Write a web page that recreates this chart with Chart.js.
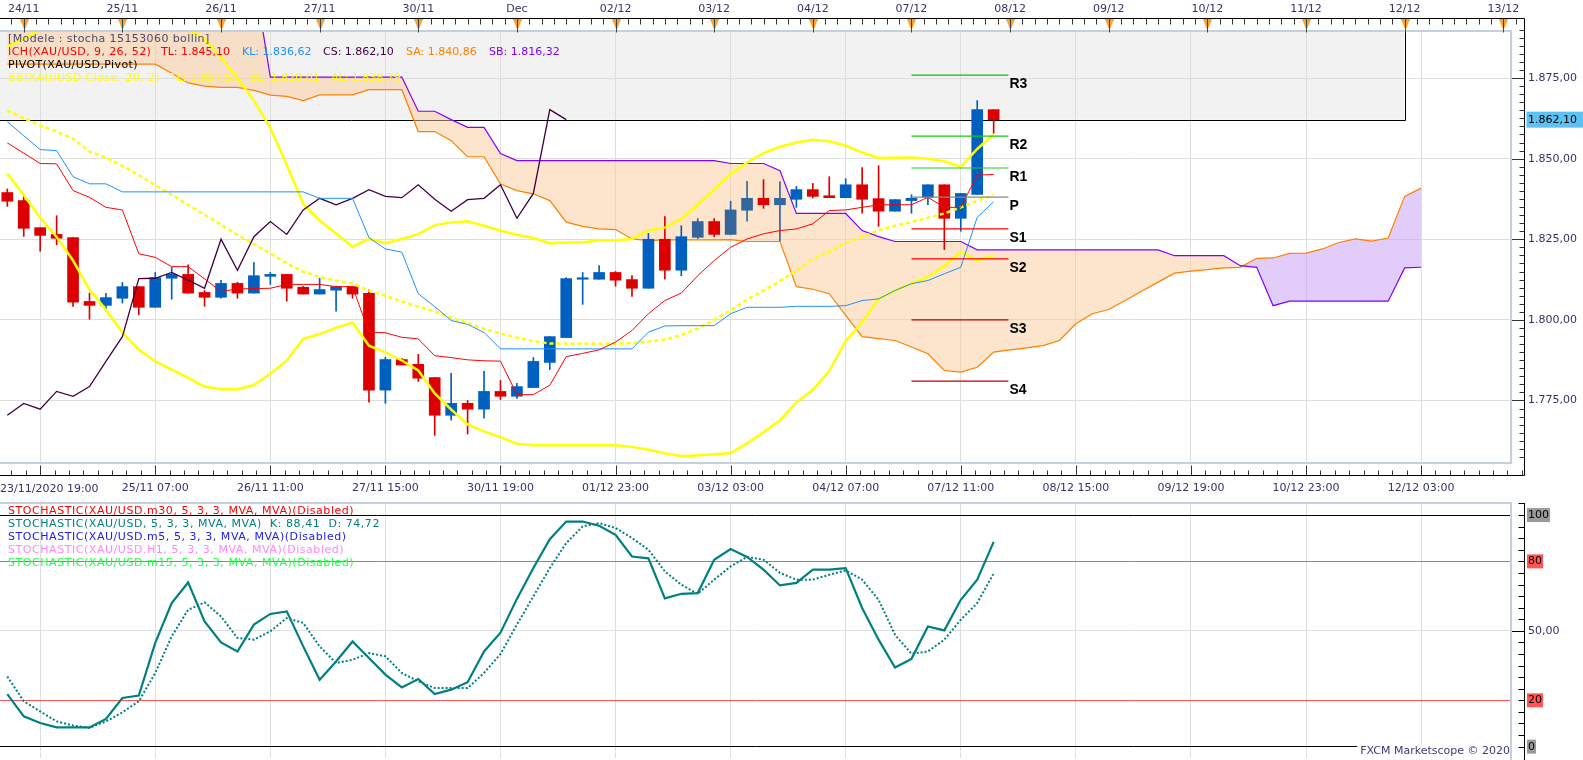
<!DOCTYPE html>
<html>
<head>
<meta charset="utf-8">
<script src="https://cdn.jsdelivr.net/npm/chart.js@4.4.1/dist/chart.umd.min.js"></script>
<style>
  html, body { margin: 0; padding: 0; background: #fff; overflow: hidden; }
  #wrap { position: relative; width: 1583px; height: 760px; }
  #price { position: absolute; left: 0; top: 0; width: 1583px; height: 500px; }
  #stoch { position: absolute; left: 0; top: 500px; width: 1583px; height: 260px; }
</style>
</head>
<body>
<div id="wrap">
  <canvas id="price" width="1583" height="500"></canvas>
  <canvas id="stoch" width="1583" height="260"></canvas>
</div>
<script>
// XAU/USD 4h bars, index 0 = first visible candle
const opens  = [1839.5,1837.0,1828.6,1826.5,1825.5,1805.7,1804.5,1806.7,1810.3,1803.9,1812.9,1814.1,1808.5,1807.0,1811.3,1808.3,1813.5,1814.1,1810.1,1808.0,1809.2,1810.3,1808.2,1778.2,1787.7,1786.2,1782.1,1770.4,1774.1,1772.3,1777.8,1776.3,1779.0,1786.8,1794.5,1812.6,1812.6,1814.7,1812.5,1809.8,1825.0,1815.4,1825.6,1830.5,1826.5,1834.0,1837.7,1835.7,1837.4,1840.4,1838.5,1837.9,1841.9,1837.6,1833.7,1837.0,1838.0,1841.9,1831.5,1838.9,1865.2];
const highs  = [1840.6,1838.3,1828.6,1832.3,1825.5,1808.3,1808.2,1811.6,1810.3,1814.7,1816.3,1817.1,1809.1,1812.3,1811.7,1817.8,1814.7,1814.1,1810.4,1812.9,1810.5,1810.3,1809.3,1788.4,1788.0,1789.3,1782.1,1783.4,1775.0,1784.0,1781.2,1780.3,1788.3,1794.8,1813.1,1814.7,1816.8,1815.0,1813.7,1826.8,1832.0,1829.2,1831.4,1831.4,1836.8,1843.0,1843.5,1842.9,1841.4,1842.3,1844.4,1843.8,1847.2,1847.8,1837.3,1838.8,1841.9,1841.9,1839.2,1868.0,1865.2];
const lows   = [1835.2,1825.9,1821.3,1823.3,1804.2,1800.2,1803.2,1805.2,1801.6,1803.9,1806.4,1808.3,1804.2,1806.7,1806.7,1808.3,1811.0,1805.8,1808.0,1808.0,1802.7,1806.7,1774.5,1774.1,1786.0,1780.9,1764.2,1768.9,1764.6,1769.5,1775.3,1775.6,1779.0,1784.6,1794.5,1804.8,1812.6,1810.4,1807.3,1809.8,1812.6,1813.7,1825.2,1825.8,1826.5,1830.6,1834.6,1824.5,1834.9,1837.8,1837.9,1837.9,1833.1,1829.0,1833.7,1833.1,1835.7,1821.8,1827.5,1838.9,1857.9];
const closes = [1836.8,1828.4,1826.2,1825.3,1805.5,1804.5,1806.9,1810.3,1803.9,1813.1,1814.1,1808.3,1807.0,1811.3,1808.3,1813.7,1814.1,1809.8,1808.0,1809.4,1810.3,1808.0,1778.2,1787.7,1786.0,1781.9,1770.4,1774.1,1772.3,1777.8,1776.3,1779.3,1787.1,1794.8,1812.8,1812.9,1814.7,1812.3,1809.8,1825.0,1815.4,1825.8,1830.5,1826.5,1834.1,1837.7,1835.7,1837.7,1840.4,1838.3,1837.9,1841.9,1837.4,1833.7,1837.3,1837.7,1841.9,1831.5,1839.2,1865.2,1862.1];

// Ichimoku 9/26/52
const tenkan = [1854.9,1851.7,1848.5,1848.4,1840.1,1838.0,1834.9,1834.1,1820.5,1819.4,1816.5,1816.5,1812.7,1808.8,1809.6,1809.7,1809.8,1811.0,1811.0,1811.0,1810.3,1810.3,1796.2,1796.0,1794.6,1794.1,1788.9,1788.3,1787.6,1787.3,1787.2,1776.8,1776.8,1779.7,1788.6,1789.6,1790.7,1793.1,1796.7,1801.9,1806.0,1808.3,1813.7,1818.4,1822.5,1825.1,1826.7,1827.7,1828.2,1829.8,1833.9,1834.1,1834.9,1835.7,1835.7,1835.7,1838.0,1834.9,1834.9,1844.9,1845.10];
const kijun  = [1861.5,1857.1,1852.8,1852.5,1844.4,1842.2,1842.2,1839.7,1839.7,1839.7,1839.7,1839.7,1839.7,1839.7,1839.7,1839.7,1839.7,1839.7,1839.7,1837.7,1837.7,1837.7,1825.5,1822.0,1821.0,1808.1,1804.1,1799.8,1798.6,1796.1,1791.0,1791.0,1791.0,1791.0,1791.0,1791.0,1791.0,1791.0,1791.0,1796.2,1798.1,1798.2,1798.2,1798.2,1801.9,1803.9,1803.9,1803.9,1804.2,1804.2,1804.2,1804.4,1806.0,1806.5,1809.1,1811.2,1812.2,1814.3,1816.3,1831.8,1836.62];
// senkou spans run 26 bars past the last candle
const senkouA = [1879.3,1879.3,1879.3,1879.3,1879.3,1879.3,1879.3,1879.3,1879.3,1879.3,1876.5,1873.5,1872.5,1872.1,1872.1,1871.2,1869.7,1869.3,1868.0,1869.8,1869.8,1869.8,1871.4,1871.4,1871.4,1858.4,1858.4,1855.6,1850.6,1850.6,1842.1,1840.1,1839.1,1837.0,1830.3,1829.0,1828.2,1828.0,1825.1,1824.6,1824.8,1824.8,1824.8,1824.8,1824.9,1824.3,1824.3,1824.3,1810.3,1809.5,1808.1,1801.4,1794.8,1794.2,1793.6,1791.6,1789.5,1784.3,1783.8,1785.3,1790.0,1790.7,1791.3,1792.0,1793.6,1798.8,1801.9,1803.2,1806.0,1808.9,1811.7,1814.5,1815.1,1815.6,1816.1,1816.3,1819.1,1819.2,1820.6,1820.7,1822.0,1824.0,1825.1,1824.4,1825.4,1838.3,1840.86];
const senkouB = [1907,1907,1907,1907,1907,1907,1907,1907,1907,1907,1907,1907,1907,1907,1907,1907,1875.3,1875.3,1875.3,1875.3,1875.3,1875.3,1875.3,1875.3,1875.3,1864.7,1864.7,1862.1,1859.7,1859.7,1851.6,1849.4,1849.4,1849.4,1849.4,1849.4,1849.4,1849.4,1849.4,1849.4,1849.4,1849.4,1849.4,1849.4,1848.5,1848.5,1848.5,1846.3,1833.0,1833.0,1833.0,1833.0,1827.7,1825.8,1824.3,1824.3,1824.3,1824.3,1824.3,1821.7,1821.7,1821.7,1821.7,1821.7,1821.7,1821.7,1821.7,1821.7,1821.7,1821.7,1821.7,1819.9,1819.9,1819.9,1819.9,1816.8,1816.3,1804.4,1805.8,1805.8,1805.8,1805.8,1805.8,1805.8,1805.8,1816.1,1816.32];
const chikouShift = 26;

// Bollinger 20, 2
const bbUpper = [1884.7,1887.2,1890.0,1892.5,1894.5,1896.0,1897.0,1897.0,1896.5,1895.0,1893.0,1890.0,1887.2,1881.3,1875.0,1868.0,1859.6,1848.0,1836.0,1830.8,1826.8,1822.7,1825.1,1823.8,1825.1,1826.6,1829.4,1830.2,1830.6,1829.2,1827.7,1826.4,1825.4,1823.8,1824.0,1824.1,1824.6,1824.7,1825.1,1827.7,1828.6,1831.3,1835.7,1840.4,1845.2,1848.8,1851.7,1853.7,1855.0,1855.9,1855.4,1854.0,1851.9,1850.2,1850.3,1850.4,1850.0,1849.2,1847.5,1853.0,1857.57];
const bbMid   = [1864.9,1862.6,1860.3,1858.4,1856.2,1852.2,1850.3,1847.8,1844.9,1841.8,1838.8,1835.7,1832.6,1829.5,1826.4,1823.5,1820.6,1817.5,1815.0,1813.3,1812.2,1811.3,1809.1,1807.5,1805.7,1804.1,1802.6,1800.7,1799.0,1797.2,1795.8,1794.5,1793.4,1792.7,1792.6,1792.6,1792.6,1792.6,1792.8,1793.3,1793.9,1795.3,1797.3,1800.0,1803.0,1806.3,1809.1,1812.0,1815.3,1818.9,1821.2,1823.8,1825.8,1827.8,1829.2,1830.3,1831.7,1833.0,1834.9,1837.0,1838.79];
const bbLower = [1845.4,1838.7,1831.7,1825.7,1818.4,1809.4,1803.1,1796.1,1790.8,1787.1,1784.6,1782.0,1779.3,1778.5,1778.5,1779.8,1783.3,1787.4,1794.1,1795.6,1797.6,1799.2,1792.0,1789.9,1787.4,1784.3,1777.2,1772.2,1767.6,1765.4,1763.6,1761.6,1761.1,1761.1,1761.1,1761.1,1761.1,1761.1,1760.6,1759.7,1758.6,1757.7,1758.0,1758.3,1758.7,1761.7,1765.1,1768.8,1774.4,1778.3,1784.1,1793.4,1799.2,1806.5,1809.1,1811.3,1813.3,1816.7,1821.0,1818.4,1820.01];

// daily pivots
const pivotNames  = ['R3','R2','R1','P','S1','S2','S3','S4'];
const pivotLevels = [1875.9,1857.0,1847.1,1838.1,1828.2,1818.9,1800.0,1781.0];
const pivotStart = 55, pivotEnd = 60.9;
const boxEndBar = 85;

// stochastic 5,3,3
const stochK = [22.7,13.1,10.2,8.3,8.3,8.3,12.0,21.0,22.1,44.8,62.0,70.9,54.1,45.0,41.1,52.7,57.3,58.4,43.3,28.9,36.8,45.4,38.3,31.1,25.6,29.2,22.7,24.6,27.8,41.1,49.2,63.8,77.1,89.6,97.2,97.2,95.4,91.5,82.1,81.3,64.0,66.0,66.3,80.7,85.3,81.9,76.4,69.6,70.7,76.4,76.4,77.1,59.9,46.2,34.2,37.9,51.9,50.2,63.4,72.1,88.41];
const stochD = [30.3,19.6,15.2,10.9,9.1,8.1,10.9,14.8,19.6,31.8,47.6,59.1,62.3,56.2,46.9,46.2,49.8,55.5,53.4,43.3,36.1,37.5,40.4,39.0,31.8,28.2,25.3,25.3,25.3,31.8,40.0,52.7,64.9,77.1,87.9,95.1,96.5,94.4,90.1,85.0,75.7,69.9,66.0,72.1,77.8,81.9,80.7,75.0,72.1,72.1,74.2,76.1,72.1,63.4,48.3,40.1,41.1,46.2,54.8,62.0,74.72];

// axis ticks
const dayTickBars = [1,7,13,19,25,31,37,43,49,55,61,67,73,79,85,91];
const dayLabels = ['24/11','25/11','26/11','27/11','30/11','Dec','02/12','03/12','04/12','07/12','08/12','09/12','10/12','11/12','12/12','13/12'];
const timeTickBars = [2,9,16,23,30,37,44,51,58,65,72,79,86];
const timeLabels = ['23/11/2020 19:00','25/11 07:00','26/11 11:00','27/11 15:00','30/11 19:00','01/12 23:00','03/12 03:00','04/12 07:00','07/12 11:00','08/12 15:00','09/12 19:00','10/12 23:00','12/12 03:00'];
const priceTicks = [1775,1800,1825,1850,1875];
const stochTicks = [0,20,50,80,100];

const X_MIN = -0.444, X_MAX = 91.47;
const FONT = '"DejaVu Sans", Verdana, sans-serif';
const AXIS_TXT = '#333366';
const FRAME = '#c6cfdc';
Chart.defaults.font.family = FONT;
Chart.defaults.font.size = 11;

const fmt = (v, d = 2) => {
  const s = v.toFixed(d).split('.');
  return s[0].replace(/\B(?=(\d{3})+(?!\d))/g, '.') + (d ? ',' + s[1] : '');
};
const last = arr => arr[arr.length - 1];
const pts = arr => arr.map((v, i) => ({x: i, y: v}));
const lastClose = last(closes);
const steelBars = [42, 44, 45, 47];
const candleColor = i => closes[i] >= opens[i] ? (steelBars.includes(i) ? '#33669a' : '#0060c0') : '#dd0000';
const pivotColors = ['#11bb11','#11cc11','#22cc22','#888888','#ff0000','#ff0000','#bb0000','#bb0000'];

function line(label, data, color, width, order, extra) {
  return Object.assign({type: 'line', label, data, borderColor: color, borderWidth: width,
    pointRadius: 0, pointHoverRadius: 0, fill: false, tension: 0, order}, extra || {});
}

// text pieces at fixed x slots; label strings get a little tracking to mimic Verdana
function slots(ctx, y, pieces) {
  pieces.forEach(([t, c, x, track]) => {
    ctx.letterSpacing = track ? '0.4px' : '0px';
    ctx.fillStyle = c;
    ctx.fillText(t, x, y);
  });
  ctx.letterSpacing = '0px';
}

const priceDecor = {
  id: 'priceDecor',
  beforeDraw(chart) {
    const {ctx, chartArea: a, scales} = chart;
    const xr = scales.x.getPixelForValue(boxEndBar);
    const yb = scales.y.getPixelForValue(lastClose);
    ctx.save();
    ctx.fillStyle = '#f2f2f2';
    ctx.fillRect(a.left, a.top, xr - a.left, yb - a.top);
    ctx.restore();
  },
  beforeDatasetsDraw(chart) {
    const {ctx, chartArea: a, scales} = chart;
    const xr = Math.round(scales.x.getPixelForValue(boxEndBar)) + 0.5;
    const yb = Math.round(scales.y.getPixelForValue(lastClose)) + 0.5;
    ctx.save();
    ctx.strokeStyle = '#000';
    ctx.lineWidth = 1;
    ctx.beginPath();
    ctx.moveTo(a.left, yb); ctx.lineTo(xr, yb); ctx.lineTo(xr, a.top);
    ctx.stroke();
    ctx.restore();
  },
  afterDraw(chart) {
    const {ctx, chartArea: a, scales: {x, y}} = chart;
    const axTop = 18.5, axRight = 1524.5, axBottom = 475.5;
    ctx.save();
    // frame
    ctx.strokeStyle = FRAME;
    ctx.lineWidth = 2;
    ctx.strokeRect(-2, a.top, a.right + 2, a.bottom - a.top);
    // axis lines
    ctx.strokeStyle = '#000';
    ctx.lineWidth = 1;
    ctx.beginPath();
    ctx.moveTo(0, axTop); ctx.lineTo(axRight, axTop); ctx.lineTo(axRight, axBottom); ctx.lineTo(0, axBottom);
    ctx.stroke();
    // top minor ticks
    ctx.strokeStyle = '#333';
    ctx.beginPath();
    for (let b = dayTickBars[0] - 1.5; b < X_MAX + 1; b += 0.75) {
      const px = Math.round(x.getPixelForValue(b)) + 0.5;
      if (px < 0 || px > axRight) continue;
      ctx.moveTo(px, axTop); ctx.lineTo(px, axTop + 6);
    }
    ctx.stroke();
    // day markers
    dayTickBars.forEach(b => {
      const px = Math.round(x.getPixelForValue(b)) + 0.5;
      ctx.fillStyle = '#f7a22a';
      ctx.beginPath();
      ctx.moveTo(px - 4.5, axTop + 0.5); ctx.lineTo(px + 4.5, axTop + 0.5); ctx.lineTo(px, axTop + 12);
      ctx.closePath(); ctx.fill();
      ctx.strokeStyle = '#444';
      ctx.beginPath(); ctx.moveTo(px, axTop); ctx.lineTo(px, axTop + 14); ctx.stroke();
    });
    // bottom ticks
    ctx.strokeStyle = '#333';
    ctx.beginPath();
    for (let b = timeTickBars[0] - 0.875 * 3; b < X_MAX + 1; b += 0.875) {
      const px = Math.round(x.getPixelForValue(b)) + 0.5;
      if (px < 0 || px > axRight) continue;
      const major = timeTickBars.some(t => Math.abs(t - b) < 0.01);
      ctx.moveTo(px, axBottom); ctx.lineTo(px, axBottom - (major ? 10 : 5));
    }
    ctx.stroke();
    // first time label is pushed inside the left edge
    ctx.font = '11px ' + FONT;
    ctx.fillStyle = AXIS_TXT;
    ctx.textBaseline = 'middle';
    ctx.textAlign = 'left';
    ctx.fillText(timeLabels[0], 0, 489);
    // price ticks
    ctx.beginPath();
    for (let v = 1757.5; v <= 1890; v += 2.5) {
      const py = Math.round(y.getPixelForValue(v)) + 0.5;
      const major = Math.abs(v % 25) < 0.01;
      ctx.moveTo(major ? a.right + 1 : axRight - 5, py); ctx.lineTo(axRight, py);
    }
    ctx.stroke();
    // pivot labels
    ctx.font = 'bold 14px "Liberation Sans", Arial, sans-serif';
    ctx.fillStyle = '#000';
    ctx.textBaseline = 'top';
    pivotNames.forEach((n, k) => {
      ctx.fillText(n, x.getPixelForValue(pivotEnd) + 1, y.getPixelForValue(pivotLevels[k]) + 2);
    });
    // indicator legend
    ctx.font = '11px ' + FONT;
    ctx.textBaseline = 'middle';
    slots(ctx, 39, [['[Modele : stocha 15153060 bollin]', '#4b4b6b', 8, true]]);
    slots(ctx, 52, [
      ['ICH(XAU/USD, 9, 26, 52)', '#ff0000', 8, true],
      ['TL: ' + fmt(last(tenkan)), '#ff0000', 161],
      ['KL: ' + fmt(last(kijun)), '#1e90ff', 242],
      ['CS: ' + fmt(lastClose), '#400040', 323],
      ['SA: ' + fmt(last(senkouA)), '#ff8000', 406],
      ['SB: ' + fmt(last(senkouB)), '#8000ff', 489]]);
    slots(ctx, 65, [['PIVOT(XAU/USD,Pivot)', '#000', 8, true]]);
    slots(ctx, 78, [
      ['BB(XAU/USD.Close, 20, 2)', '#ffff00', 8, true],
      ['TL: ' + fmt(last(bbUpper)), '#ffff00', 170],
      ['BL: ' + fmt(last(bbLower)), '#ffff00', 250],
      ['AL: ' + fmt(last(bbMid)), '#ffff00', 331]]);
    // last price badge
    const py = y.getPixelForValue(lastClose);
    ctx.fillStyle = '#5bc2f2';
    ctx.fillRect(axRight + 2, py - 8, 1583 - axRight, 16);
    ctx.fillStyle = '#000';
    ctx.fillText(fmt(lastClose), 1528, py);
    ctx.restore();
  }
};

new Chart(document.getElementById('price'), {
  type: 'line',
  data: {
    datasets: [
      line('SA', pts(senkouA), '#ff8000', 1.2, 20,
        {fill: {target: '+1', above: 'rgba(197,155,245,0.5)', below: 'rgba(251,201,153,0.5)'}}),
      line('SB', pts(senkouB), '#8000ff', 1.2, 19),
      {type: 'bar', label: 'wick', data: closes.map((c, i) => ({x: i, y: [lows[i], highs[i]]})),
        backgroundColor: ctx => candleColor(ctx.dataIndex), barThickness: 1, grouped: false, order: 15},
      {type: 'bar', label: 'body', data: closes.map((c, i) => ({x: i, y: [opens[i], c]})),
        backgroundColor: ctx => candleColor(ctx.dataIndex), barThickness: 11, minBarLength: 1.5,
        grouped: false, order: 14},
      line('BB upper', pts(bbUpper), '#ffff00', 2.5, 10),
      line('BB lower', pts(bbLower), '#ffff00', 2.5, 10),
      line('BB mid', pts(bbMid), '#ffff00', 2.5, 10, {borderDash: [4, 3]}),
      line('Chikou', pts(closes.slice(chikouShift)), '#400040', 1.3, 9),
      line('Kijun', pts(kijun), '#1e90ff', 1, 8),
      line('Tenkan', pts(tenkan), '#ff0000', 1, 7),
      ...pivotNames.map((n, k) => line(n, [{x: pivotStart, y: pivotLevels[k]}, {x: pivotEnd, y: pivotLevels[k]}],
        pivotColors[k], 1.2, 3))
    ]
  },
  options: {
    responsive: false,
    animation: false,
    events: [],
    layout: {padding: 0},
    plugins: {legend: {display: false}, tooltip: {enabled: false}},
    scales: {
      x: {
        type: 'linear', position: 'bottom', min: X_MIN, max: X_MAX, bounds: 'data', offset: false,
        afterBuildTicks: s => { s.ticks = timeTickBars.map(v => ({value: v})); },
        afterFit: s => { s.height = 37; s.paddingLeft = 0; s.paddingRight = 0; },
        ticks: {autoSkip: false, maxRotation: 0, padding: 19, color: AXIS_TXT,
          callback: (v, i) => i === 0 ? '' : timeLabels[i]},
        grid: {color: '#dedede', drawTicks: false, offset: false},
        border: {display: false}
      },
      xTop: {
        type: 'linear', position: 'top', min: X_MIN, max: X_MAX, bounds: 'data', offset: false,
        afterBuildTicks: s => { s.ticks = dayTickBars.map(v => ({value: v})); },
        afterFit: s => { s.height = 31; s.paddingLeft = 0; s.paddingRight = 0; },
        ticks: {autoSkip: false, maxRotation: 0, padding: 15, color: AXIS_TXT, callback: (v, i) => dayLabels[i]},
        grid: {display: false, drawTicks: false},
        border: {display: false}
      },
      y: {
        type: 'linear', position: 'right', min: 1755.6, max: 1889.6, bounds: 'data',
        afterBuildTicks: s => { s.ticks = priceTicks.map(v => ({value: v})); },
        afterFit: s => { s.width = 72; s.paddingTop = 0; s.paddingBottom = 0; },
        ticks: {padding: 17, color: AXIS_TXT, callback: v => fmt(v)},
        grid: {color: '#dedede', drawTicks: false},
        border: {display: false}
      }
    }
  },
  plugins: [priceDecor]
});

const stochLabelBg = {100: '#9a9a9a', 80: '#ff5555', 20: '#ff5555', 0: '#9a9a9a'};
const stochLineColor = v => (v === 0 || v === 100) ? '#000' : (v === 50 ? '#dedede' : '#ff5555');

const stochDecor = {
  id: 'stochDecor',
  afterDraw(chart) {
    const {ctx, chartArea: a, scales: {y}} = chart;
    const axRight = 1524.5;
    ctx.save();
    ctx.strokeStyle = FRAME;
    ctx.lineWidth = 2;
    ctx.strokeRect(-2, a.top, a.right + 2, a.bottom - a.top + 3);
    ctx.strokeStyle = '#000';
    ctx.lineWidth = 1;
    ctx.beginPath();
    ctx.moveTo(axRight, a.top); ctx.lineTo(axRight, 260);
    for (let v = 0; v <= 105; v += 5) {
      const py = Math.round(y.getPixelForValue(v)) + 0.5;
      ctx.moveTo(v === 50 ? a.right + 1 : axRight - 6, py); ctx.lineTo(axRight, py);
    }
    ctx.stroke();
    // axis labels
    ctx.font = '11px ' + FONT;
    ctx.textBaseline = 'middle';
    ctx.textAlign = 'left';
    stochTicks.forEach(v => {
      const py = y.getPixelForValue(v);
      const t = v === 50 ? fmt(v) : String(v);
      const w = ctx.measureText(t).width;
      if (stochLabelBg[v]) {
        ctx.fillStyle = stochLabelBg[v];
        ctx.fillRect(1527, py - 7, w + 2, 14);
        ctx.fillStyle = '#000';
      } else {
        ctx.fillStyle = AXIS_TXT;
      }
      ctx.fillText(t, 1528, py);
    });
    // legend
    ctx.letterSpacing = '0.55px';
    const rows = [
      ['STOCHASTIC(XAU/USD.m30, 5, 3, 3, MVA, MVA)(Disabled)', '#ff0000'],
      ['STOCHASTIC(XAU/USD, 5, 3, 3, MVA, MVA)  K: ' + fmt(last(stochK)) + '  D: ' + fmt(last(stochD)), '#008080'],
      ['STOCHASTIC(XAU/USD.m5, 5, 3, 3, MVA, MVA)(Disabled)', '#2020ee'],
      ['STOCHASTIC(XAU/USD.H1, 5, 3, 3, MVA, MVA)(Disabled)', '#ff88ff'],
      ['STOCHASTIC(XAU/USD.m15, 5, 3, 3, MVA, MVA)(Disabled)', '#22ff44']
    ];
    rows.forEach(([t, c], k) => { ctx.fillStyle = c; ctx.fillText(t, 8, 11 + k * 13); });
    ctx.letterSpacing = '0px';
    // watermark
    const wm = 'FXCM Marketscope \u00a9 2020';
    const ww = ctx.measureText(wm).width;
    ctx.fillStyle = '#fff';
    ctx.fillRect(a.right - ww - 4, 244, ww + 3, 14);
    ctx.fillStyle = '#3c3c78';
    ctx.textAlign = 'right';
    ctx.fillText(wm, a.right - 1, 251.5);
    ctx.restore();
  }
};

new Chart(document.getElementById('stoch'), {
  type: 'line',
  data: {
    datasets: [
      line('K', pts(stochK), '#008080', 2.2, 2),
      line('D', pts(stochD), '#008080', 2, 1, {borderDash: [2, 2]})
    ]
  },
  options: {
    responsive: false,
    animation: false,
    events: [],
    layout: {padding: {top: 3}},
    plugins: {legend: {display: false}, tooltip: {enabled: false}},
    scales: {
      x: {
        type: 'linear', min: X_MIN, max: X_MAX, bounds: 'data', offset: false,
        afterBuildTicks: s => { s.ticks = timeTickBars.map(v => ({value: v})); },
        afterFit: s => { s.height = 2; s.paddingLeft = 0; s.paddingRight = 0; },
        ticks: {display: false},
        grid: {color: '#dedede', drawTicks: false},
        border: {display: false}
      },
      y: {
        type: 'linear', position: 'right', min: -4.9, max: 105.2, bounds: 'data',
        afterBuildTicks: s => { s.ticks = stochTicks.map(v => ({value: v})); },
        afterFit: s => { s.width = 72; s.paddingTop = 0; s.paddingBottom = 0; },
        ticks: {display: false},
        grid: {color: c => stochLineColor(c.tick.value), drawTicks: false},
        border: {display: false}
      }
    }
  },
  plugins: [stochDecor]
});
</script>
</body>
</html>
